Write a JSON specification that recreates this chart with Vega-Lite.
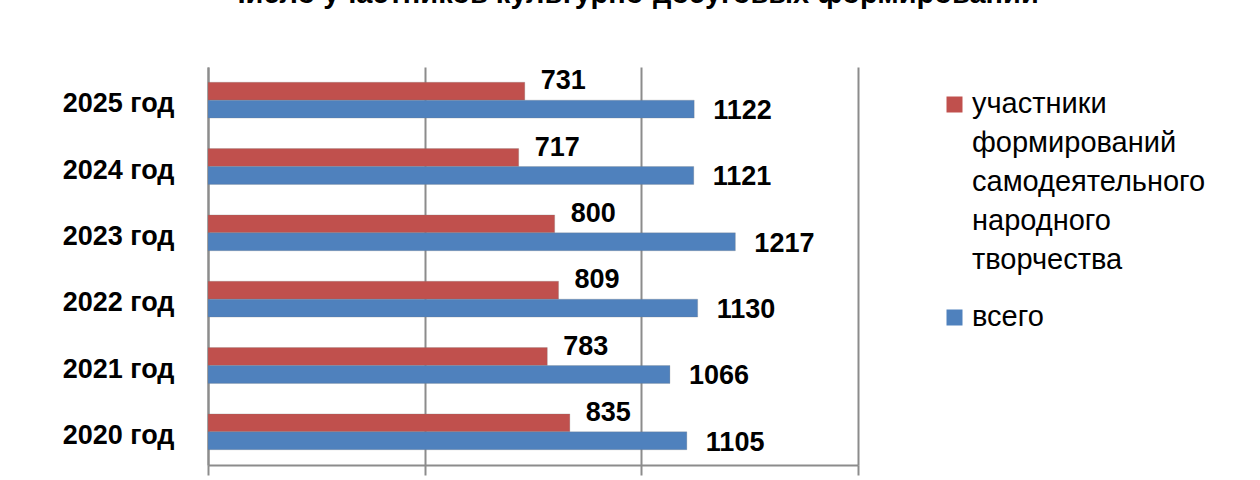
{
  "$schema": "https://vega.github.io/schema/vega-lite/v6.json",
  "width": 650,
  "height": 398,
  "autosize": {"type": "none"},
  "padding": {"left": 208, "top": 67, "right": 402, "bottom": 15},
  "background": "white",
  "title": {
    "text": "Число участников культурно-досуговых формирований",
    "font": "Liberation Sans",
    "fontSize": 29,
    "fontWeight": "bold",
    "color": "black",
    "anchor": "middle",
    "dx": 99,
    "offset": 29,
    "baseline": "bottom"
  },
  "config": {
    "view": {"stroke": null},
    "style": {"guide-label": {"lineHeight": 39, "dy": -15}}
  },
  "data": {
    "values": [
      {"year": "2025 год", "series": "участники формирований самодеятельного народного творчества", "value": 731},
      {"year": "2025 год", "series": "всего", "value": 1122},
      {"year": "2024 год", "series": "участники формирований самодеятельного народного творчества", "value": 717},
      {"year": "2024 год", "series": "всего", "value": 1121},
      {"year": "2023 год", "series": "участники формирований самодеятельного народного творчества", "value": 800},
      {"year": "2023 год", "series": "всего", "value": 1217},
      {"year": "2022 год", "series": "участники формирований самодеятельного народного творчества", "value": 809},
      {"year": "2022 год", "series": "всего", "value": 1130},
      {"year": "2021 год", "series": "участники формирований самодеятельного народного творчества", "value": 783},
      {"year": "2021 год", "series": "всего", "value": 1066},
      {"year": "2020 год", "series": "участники формирований самодеятельного народного творчества", "value": 835},
      {"year": "2020 год", "series": "всего", "value": 1105}
    ]
  },
  "encoding": {
    "y": {
      "field": "year",
      "type": "nominal",
      "sort": ["2025 год", "2024 год", "2023 год", "2022 год", "2021 год", "2020 год"],
      "scale": {"paddingInner": 0.46, "paddingOuter": 0.23},
      "axis": {
        "title": null,
        "ticks": false,
        "grid": false,
        "domainColor": "#8c8c8c",
        "domainWidth": 2,
        "labelFont": "Liberation Sans",
        "labelFontSize": 27,
        "labelFontWeight": "bold",
        "labelColor": "black",
        "labelPadding": 34,
        "labelOffset": 19
      }
    },
    "yOffset": {
      "field": "series",
      "type": "nominal",
      "sort": ["участники формирований самодеятельного народного творчества", "всего"]
    },
    "x": {
      "field": "value",
      "type": "quantitative",
      "scale": {"domain": [0, 1500], "nice": false},
      "axis": {
        "title": null,
        "labels": false,
        "values": [0, 500, 1000, 1500],
        "grid": true,
        "gridColor": "#8c8c8c",
        "gridWidth": 2,
        "domainColor": "#8c8c8c",
        "domainWidth": 2,
        "tickColor": "#8c8c8c",
        "tickWidth": 2,
        "tickSize": 10
      }
    }
  },
  "layer": [
    {
      "mark": {"type": "bar", "stroke": "#7a7a7a", "strokeOpacity": 0.25, "strokeWidth": 1},
      "encoding": {
        "color": {
          "field": "series",
          "type": "nominal",
          "scale": {
            "domain": ["участники формирований самодеятельного народного творчества", "всего"],
            "range": ["#C0504D", "#4F81BD"]
          },
          "legend": {
            "title": null,
            "orient": "none",
            "legendX": 732,
            "legendY": 23,
            "symbolType": "square",
            "symbolSize": 256,
            "symbolStrokeWidth": 0,
            "labelFont": "Liberation Sans",
            "labelFontSize": 29,
            "labelColor": "black",
            "labelLimit": 0,
            "labelOffset": 3,
            "labelBaseline": "top",
            "labelExpr": "split(datum.label, ' ')",
            "rowPadding": 27
          }
        }
      }
    },
    {
      "transform": [{"filter": "datum.series != 'всего'"}],
      "mark": {"type": "text", "align": "left", "baseline": "middle", "dx": 16, "dy": -10, "font": "Liberation Sans", "fontSize": 27, "fontWeight": "bold", "color": "black"},
      "encoding": {"text": {"field": "value", "type": "quantitative"}}
    },
    {
      "transform": [{"filter": "datum.series == 'всего'"}],
      "mark": {"type": "text", "align": "left", "baseline": "middle", "dx": 19, "dy": 2, "font": "Liberation Sans", "fontSize": 27, "fontWeight": "bold", "color": "black"},
      "encoding": {"text": {"field": "value", "type": "quantitative"}}
    }
  ]
}
